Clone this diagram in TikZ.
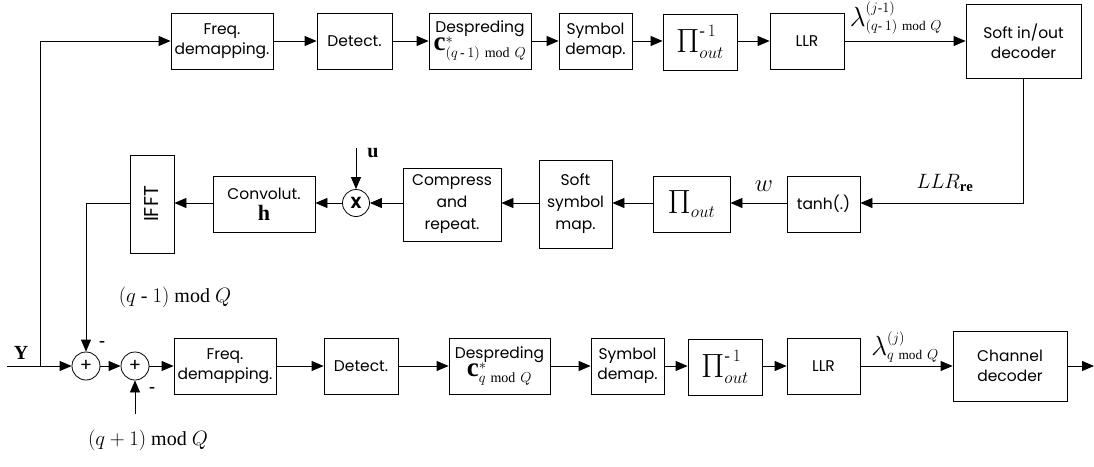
\documentclass[tikz,border=0pt]{standalone}
\usepackage{amsmath}
\usepackage{fontspec}
\setmainfont{Liberation Serif}
\newfontfamily\lbl{Poppins}
\usetikzlibrary{arrows.meta}
% large operator-like symbols with ordinary-size indices
\newcommand{\bigPi}{{\scalebox{1.35}{$\Pi$}}}
\newcommand{\bigc}{{\scalebox{1.35}{$\mathbf{c}$}}}
\newcommand{\biglam}{{\scalebox{1.6}{$\lambda$}}}
\newcommand{\mn}{\text{\rmfamily -}}
\begin{document}
\begin{tikzpicture}[x=1pt,y=-1pt,
  line width=0.8pt,
  blk/.style={draw, inner sep=0pt, align=center, font=\lbl\fontsize{15.5}{20}\selectfont},
  sumnode/.style={draw, circle, minimum size=28pt, inner sep=0pt, font=\lbl\fontsize{18}{18}\selectfont},
  arr/.style={-{Triangle[length=12pt,width=10pt]}},
  mlabel/.style={font=\fontsize{20}{22}\selectfont, inner sep=0pt}]
\useasboundingbox (0,0) rectangle (1094,466);

% upper processing chain
\node[blk, minimum width=102pt, minimum height=56pt] (fd1) at (222,41) {Freq.\\demapping.};
\node[blk, minimum width=75pt, minimum height=56pt] (det1) at (354.5,41) {Detect.};
\node[blk, minimum width=102pt, minimum height=56pt] (dsp1) at (480,41)
  {Despreding\\[-2pt]{\rmfamily\fontsize{20}{20}\selectfont$\bigc^{*}_{(q\,\mn\,1)\ \mathrm{mod}\ Q}$}};
\node[blk, minimum width=73pt, minimum height=56pt] (sym1) at (595.5,41) {Symbol\\demap.};
\node[blk, minimum width=74pt, minimum height=56pt] (pi1) at (700,42)
  {\rmfamily\fontsize{24}{24}\selectfont$\bigPi_{out}^{\mn\,1}$};
\node[blk, minimum width=74pt, minimum height=56pt] (llr1) at (807,41) {LLR};
\node[blk, minimum width=115pt, minimum height=74pt] (sod) at (1023.5,41) {Soft in/out\\decoder};

% feedback chain
\node[blk, minimum width=73pt, minimum height=56pt] (tanh) at (823.5,204) {tanh(.)};
\node[blk, minimum width=77pt, minimum height=56pt] (piout) at (691.5,204)
  {\rmfamily\fontsize{24}{24}\selectfont$\bigPi_{out}$};
\node[blk, minimum width=73pt, minimum height=88pt, font=\lbl\fontsize{15.5}{22}\selectfont] (ssm) at (575.5,204) {Soft\\symbol\\map.};
\node[blk, minimum width=98pt, minimum height=73pt, font=\lbl\fontsize{15.5}{22}\selectfont] (cmp) at (452,204.5) {Compress\\and\\repeat.};
\node[sumnode, minimum size=27pt, font=\lbl\bfseries\fontsize{16}{16}\selectfont] (mult) at (356,203) {X};
\node[blk, minimum width=102pt, minimum height=56pt] (conv) at (264,204)
  {Convolut.\\[1pt]{\rmfamily\fontsize{22}{22}\selectfont$\mathbf{h}$}};
\node[blk, minimum width=44pt, minimum height=98pt] (ifft) at (152,204) {\rotatebox{90}{\fontsize{20}{20}\selectfont IFFT}};

% lower processing chain
\node[sumnode] (add1) at (86,366) {+};
\node[sumnode] (add2) at (135,366) {+};
\node[blk, minimum width=102pt, minimum height=56pt] (fd2) at (225,366) {Freq.\\demapping.};
\node[blk, minimum width=74pt, minimum height=56pt] (det2) at (361,366) {Detect.};
\node[blk, minimum width=101pt, minimum height=56pt] (dsp2) at (499.5,366)
  {Despreding\\[-2pt]{\rmfamily\fontsize{20}{20}\selectfont$\bigc^{*}_{q\ \mathrm{mod}\ Q}$}};
\node[blk, minimum width=73pt, minimum height=56pt] (sym2) at (627.5,366) {Symbol\\demap.};
\node[blk, minimum width=74pt, minimum height=56pt] (pi2) at (725,367)
  {\rmfamily\fontsize{24}{24}\selectfont$\bigPi_{out}^{\mn\,1}$};
\node[blk, minimum width=73pt, minimum height=56pt] (llr2) at (823.5,366) {LLR};
\node[blk, minimum width=114pt, minimum height=70pt] (chd) at (1010,366) {Channel\\decoder};

% free ends
\coordinate (yin) at (7,366);
\coordinate (ysplit) at (40,366);
\coordinate (ytop) at (40,41);
\coordinate (uin) at (356,148);
\coordinate (qp) at (135,414);
\coordinate (fbk) at (86,203);
\coordinate (dec) at (1023.5,203);
\coordinate (out) at (1094,366);

% upper chain connectors
\draw (ysplit) -- (ytop);
\draw[arr] (ytop) -- (fd1);
\draw[arr] (fd1) -- (det1);
\draw[arr] (det1) -- (dsp1);
\draw[arr] (dsp1) -- (sym1);
\draw[arr] (sym1) -- (sym1.east -| pi1.west);
\draw[arr] (pi1.east |- llr1) -- (llr1);
\draw[arr] (llr1) -- (llr1.east -| sod.west);

% feedback connectors
\draw[arr] (sod.south) -- (dec) -- (tanh.east |- dec);
\draw[arr] (tanh.west |- dec) -- (piout.east |- dec);
\draw[arr] (piout.west |- dec) -- (ssm.east |- dec);
\draw[arr] (ssm.west |- dec) -- (cmp.east |- dec);
\draw[arr] (cmp.west |- dec) -- (mult);
\draw[arr] (uin) -- (mult);
\draw[arr] (mult) -- (conv.east |- dec);
\draw[arr] (conv.west |- dec) -- (ifft.east |- dec);
\draw[arr] (ifft.west |- dec) -- (fbk) -- (add1);

% lower chain connectors
\draw[arr] (yin) -- (add1);
\draw[arr] (add1) -- (add2);
\draw[arr] (qp) -- (add2);
\draw[arr] (add2) -- (fd2);
\draw[arr] (fd2) -- (det2);
\draw[arr] (det2) -- (dsp2);
\draw[arr] (dsp2) -- (sym2);
\draw[arr] (sym2) -- (sym2.east -| pi2.west);
\draw[arr] (pi2.east |- llr2) -- (llr2);
\draw[arr] (llr2) -- (llr2.east -| chd.west);
\draw[arr] (chd) -- (out);

% labels
\node[mlabel] (ylab) at (21,353) {$\mathbf{Y}$};
\node[inner sep=0pt, font=\bfseries\fontsize{18}{18}\selectfont] (m1) at (102,344) {-};
\node[inner sep=0pt, font=\bfseries\fontsize{18}{18}\selectfont] (m2) at (152,390) {-};
\node[mlabel] (qm) at (175,297) {$(q\ \mn\ 1)\ \mathrm{mod}\ Q$};
\node[mlabel] (qpl) at (148,440) {$(q+1)\ \mathrm{mod}\ Q$};
\node[mlabel] (ulab) at (373,153) {$\mathbf{u}$};
\node[mlabel, font=\fontsize{24}{24}\selectfont] (wlab) at (764,186) {$w$};
\node[mlabel, font=\fontsize{21}{22}\selectfont] (llrre) at (945,183) {$LLR_{\mathbf{re}}$};
\node[mlabel, font=\fontsize{19}{19}\selectfont] (lam1) at (896,18)
  {$\biglam^{(j\mn1)}_{(q\mn\,1)\ \mathrm{mod}\ Q}$};
\node[mlabel, font=\fontsize{19}{19}\selectfont] (lam2) at (905,347)
  {$\biglam^{(j)}_{q\ \mathrm{mod}\ Q}$};
\end{tikzpicture}
\end{document}
